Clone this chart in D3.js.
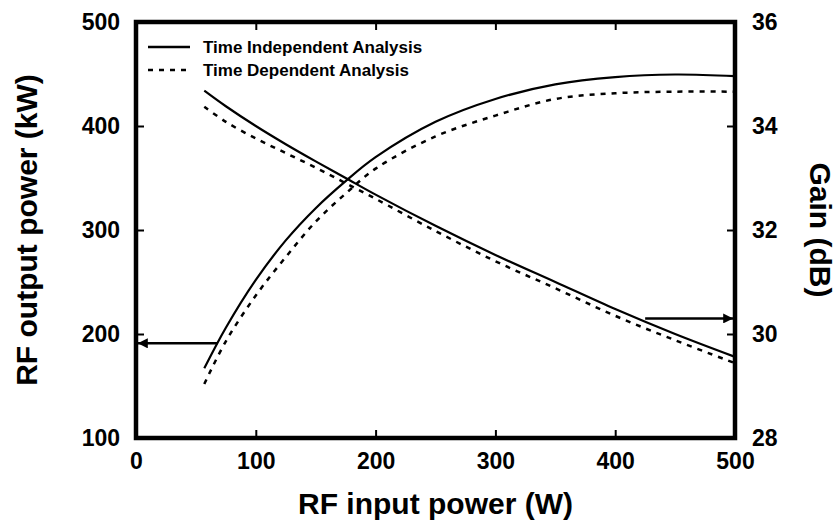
<!doctype html>
<html>
  <head>
    <script src="https://cdnjs.cloudflare.com/ajax/libs/d3/7.8.5/d3.min.js"></script>
    <style>
      body { margin: 0; background: #fff; }
      text { font-family: "Liberation Sans", Arial, sans-serif; font-weight: bold; fill: #000; }
    </style>
  </head>
  <body>
    <svg width="838" height="527"></svg>

    <script>
        // input power (W)
        var inputPower = [57, 75, 100, 125, 150, 175, 200, 250, 300, 350, 400, 450, 500];
        // RF output power (kW), left axis
        var outIndep = [167, 206, 252, 290, 321, 347, 370, 404, 426, 440, 447, 449.5, 448];
        var outDep   = [152, 193, 237, 274, 308, 335, 359, 390, 410, 426, 431.5, 433, 433];
        // gain (dB), right axis
        var gainIndep = [34.68, 34.38, 34.0, 33.65, 33.32, 33.0, 32.68, 32.08, 31.52, 31.0, 30.48, 30.0, 29.56];
        var gainDep   = [34.37, 34.08, 33.76, 33.48, 33.2, 32.9, 32.6, 31.98, 31.4, 30.88, 30.35, 29.88, 29.44];

        var xTicks = [0, 100, 200, 300, 400, 500];
        var yLeftTicks = [100, 200, 300, 400, 500];
        var yRightTicks = [28, 30, 32, 34, 36];
        var legendLabels = ["Time Independent Analysis", "Time Dependent Analysis"];

        var pL = 136, pR = 735, pT = 22, pB = 438;

        var x = d3.scaleLinear().domain([0, 500]).range([pL, pR]);
        var yL = d3.scaleLinear().domain([100, 500]).range([pB, pT]);
        var yR = d3.scaleLinear().domain([28, 36]).range([pB, pT]);

        var svg = d3.select("svg");

        // axes with inward ticks
        function styleAxis(g){
            g.select(".domain").remove();
            g.selectAll(".tick line").attr("stroke", "#000").attr("stroke-width", 2);
            g.selectAll("text").style("font-size", "23px");
        }

        svg.append("g").attr("transform", "translate(0," + pB + ")")
            .call(d3.axisTop(x).tickValues(xTicks).tickSize(8).tickFormat(""))
            .call(styleAxis);
        svg.append("g").attr("transform", "translate(0," + pB + ")")
            .call(d3.axisBottom(x).tickValues(xTicks).tickSize(0).tickPadding(15))
            .call(styleAxis);
        svg.append("g").attr("transform", "translate(0," + pT + ")")
            .call(d3.axisBottom(x).tickValues(xTicks).tickSize(8).tickFormat(""))
            .call(styleAxis);
        svg.append("g").attr("transform", "translate(" + pL + ",0)")
            .call(d3.axisRight(yL).tickValues(yLeftTicks).tickSize(8).tickFormat(""))
            .call(styleAxis);
        svg.append("g").attr("transform", "translate(" + pL + ",0)")
            .call(d3.axisLeft(yL).tickValues(yLeftTicks).tickSize(0).tickPadding(16))
            .call(styleAxis);
        svg.append("g").attr("transform", "translate(" + pR + ",0)")
            .call(d3.axisLeft(yR).tickValues(yRightTicks).tickSize(8).tickFormat(""))
            .call(styleAxis);
        svg.append("g").attr("transform", "translate(" + pR + ",0)")
            .call(d3.axisRight(yR).tickValues(yRightTicks).tickSize(0).tickPadding(17))
            .call(styleAxis);

        // frame
        svg.append("rect")
            .attr("x", pL).attr("y", pT)
            .attr("width", pR - pL).attr("height", pB - pT)
            .attr("fill", "none").attr("stroke", "#000").attr("stroke-width", 4.5);

        // curves
        var lineL = d3.line().x((d, i) => x(inputPower[i])).y(d => yL(d)).curve(d3.curveCatmullRom.alpha(0.5));
        var lineR = d3.line().x((d, i) => x(inputPower[i])).y(d => yR(d)).curve(d3.curveCatmullRom.alpha(0.5));

        var curves = [
            {vals: outIndep, line: lineL, dash: null},
            {vals: outDep, line: lineL, dash: "5,6"},
            {vals: gainIndep, line: lineR, dash: null},
            {vals: gainDep, line: lineR, dash: "5,6"}
        ];
        svg.selectAll("path.curve").data(curves).enter().append("path")
            .attr("class", "curve")
            .attr("d", d => d.line(d.vals))
            .attr("fill", "none").attr("stroke", "#000")
            .attr("stroke-width", d => d.dash ? 2.5 : 2.2)
            .attr("stroke-dasharray", d => d.dash);

        // arrows pointing to the axes
        svg.append("defs").append("marker")
            .attr("id", "head").attr("viewBox", "0 0 10 10")
            .attr("refX", 10).attr("refY", 5)
            .attr("markerWidth", 5).attr("markerHeight", 4)
            .attr("markerUnits", "strokeWidth")
            .attr("orient", "auto")
          .append("path").attr("d", "M0,0L10,5L0,10Z").attr("fill", "#000");

        svg.append("line")
            .attr("x1", x(68)).attr("x2", x(1.5))
            .attr("y1", yL(191)).attr("y2", yL(191))
            .attr("stroke", "#000").attr("stroke-width", 2.5)
            .attr("marker-end", "url(#head)");
        svg.append("line")
            .attr("x1", x(425)).attr("x2", x(498.5))
            .attr("y1", yR(30.3)).attr("y2", yR(30.3))
            .attr("stroke", "#000").attr("stroke-width", 2.5)
            .attr("marker-end", "url(#head)");

        // legend
        var legend = svg.append("g");
        legendLabels.forEach(function(lab, i){
            var yy = 47 + i * 23;
            legend.append("line")
                .attr("x1", 148).attr("x2", 190).attr("y1", yy).attr("y2", yy)
                .attr("stroke", "#000").attr("stroke-width", 2.5)
                .attr("stroke-dasharray", i ? "5,6" : null);
            legend.append("text")
                .attr("x", 203).attr("y", yy).attr("dy", "0.35em")
                .style("font-size", "17px").text(lab);
        });

        // axis titles
        svg.append("text")
            .attr("x", (pL + pR) / 2).attr("y", 514)
            .attr("text-anchor", "middle").style("font-size", "30px")
            .text("RF input power (W)");
        svg.append("text")
            .attr("transform", "translate(37," + (pT + pB) / 2 + ") rotate(-90)")
            .attr("text-anchor", "middle").style("font-size", "30px")
            .text("RF output power (kW)");
        svg.append("text")
            .attr("transform", "translate(810," + (pT + pB) / 2 + ") rotate(90)")
            .attr("text-anchor", "middle").style("font-size", "30px")
            .text("Gain (dB)");
    </script>
  </body>
</html>
